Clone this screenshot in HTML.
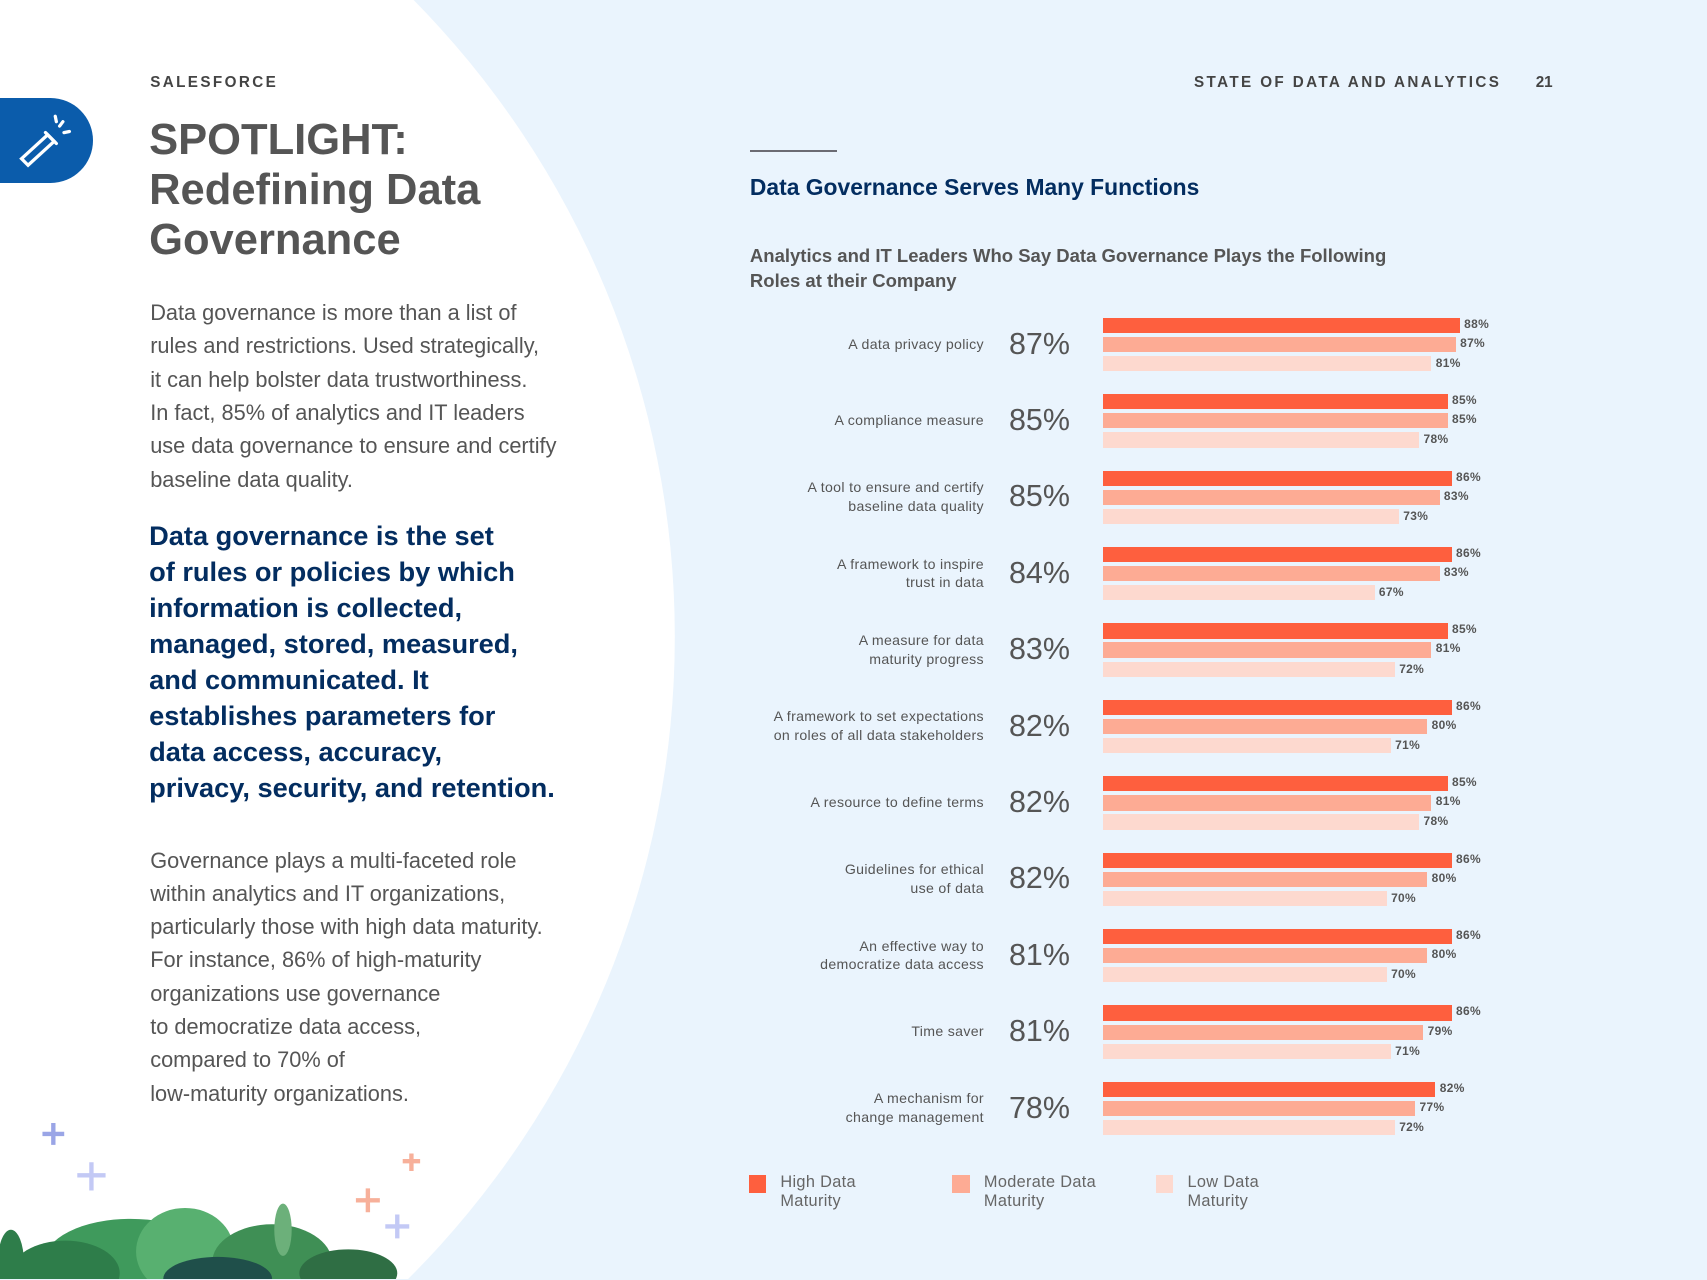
<!DOCTYPE html>
<html><head><meta charset="utf-8">
<style>
html,body{margin:0;padding:0;width:1707px;height:1280px;overflow:hidden;}
body{background:#eaf4fd;font-family:"Liberation Sans",sans-serif;position:relative;}
#wrap{position:absolute;left:0;top:0;width:1568px;height:1175px;overflow:hidden;zoom:1.0884;}
.abs{position:absolute;white-space:nowrap;}
.lbl{position:absolute;right:664px;text-align:right;font-size:13px;color:#555;line-height:17px;letter-spacing:0.3px;}
.big{position:absolute;left:927px;font-size:28px;color:#555;line-height:30px;}
.val{position:absolute;font-size:11px;font-weight:bold;color:#555;line-height:12px;letter-spacing:0.3px;}
.bar{position:absolute;height:14px;}
</style></head>
<body>
<div id="wrap">
<svg class="abs" style="left:0;top:0" width="1568" height="1175">
 <circle cx="-213" cy="585" r="833" fill="#ffffff"/>
</svg>
<div class="abs" style="left:138px;top:68px;font-size:14px;letter-spacing:2.2px;color:#444;font-weight:bold">SALESFORCE</div>
<div style="position:absolute;left:0;top:90px;width:85px;height:78px;background:#0b5cab;border-radius:0 40px 40px 0;"></div>
<svg class="abs" style="left:14px;top:104px" width="54" height="50">
 <g stroke="#fff" stroke-width="3" fill="none" stroke-linecap="round">
  <path d="M6 42 L30 20 L36 26 L12 48 Z"/><path d="M28 18 L38 28"/><path d="M41 12 L44 8 M45 18 L50 17 M38 8 L37 3"/>
 </g>
</svg>
<div class="abs" style="left:137px;top:106px;font-size:40px;line-height:46px;color:#555;font-weight:bold;white-space:normal;width:400px">SPOTLIGHT:<br>Redefining Data<br>Governance</div>
<div class="abs" style="left:138px;top:272px;font-size:20px;line-height:30.6px;color:#555;white-space:normal;width:420px">Data governance is more than a list of<br>rules and restrictions. Used strategically,<br>it can help bolster data trustworthiness.<br>In fact, 85% of analytics and IT leaders<br>use data governance to ensure and certify<br>baseline data quality.</div>
<div class="abs" style="left:137px;top:476px;font-size:25px;line-height:33px;color:#032d60;font-weight:bold;white-space:normal;width:430px">Data governance is the set<br>of rules or policies by which<br>information is collected,<br>managed, stored, measured,<br>and communicated. It<br>establishes parameters for<br>data access, accuracy,<br>privacy, security, and retention.</div>
<div class="abs" style="left:138px;top:775px;font-size:20px;line-height:30.6px;color:#555;white-space:normal;width:430px">Governance plays a multi-faceted role<br>within analytics and IT organizations,<br>particularly those with high data maturity.<br>For instance, 86% of high-maturity<br>organizations use governance<br>to democratize data access,<br>compared to 70% of<br>low-maturity organizations.</div>
<svg class="abs" style="left:0;top:1020px" width="420" height="155">
 <g stroke-width="4"><path d="M49 12v20M39 22h20" stroke="#9aa5e6"/><path d="M84 48v26M71 60h26" stroke="#c3c9f5"/><path d="M378 40v16M370 47h16" stroke="#f7b09a"/><path d="M338 72v22M327 83h22" stroke="#f7b09a"/><path d="M365 96v22M354 107h22" stroke="#c3c9f5"/></g>
 <ellipse cx="120" cy="140" rx="80" ry="40" fill="#3f9a5c"/><ellipse cx="60" cy="150" rx="50" ry="30" fill="#2e7d4a"/><ellipse cx="170" cy="130" rx="45" ry="40" fill="#58b070"/><ellipse cx="250" cy="140" rx="55" ry="35" fill="#3f8f55"/><ellipse cx="320" cy="150" rx="45" ry="22" fill="#2f6e44"/><ellipse cx="200" cy="155" rx="50" ry="20" fill="#1f4f4a"/>
 <ellipse cx="10" cy="140" rx="12" ry="30" fill="#2e7d4a"/><ellipse cx="260" cy="110" rx="8" ry="24" fill="#6cb07a"/>
</svg>
<div class="abs" style="left:1097px;top:68px;font-size:14px;letter-spacing:2.2px;color:#444;font-weight:bold">STATE OF DATA AND ANALYTICS</div>
<div class="abs" style="left:1411px;top:68px;font-size:14px;color:#444;font-weight:bold">21</div>
<div style="position:absolute;left:689px;top:138px;width:80px;height:2px;background:#6b6b73"></div>
<div class="abs" style="left:689px;top:160px;font-size:21px;color:#032d60;font-weight:bold">Data Governance Serves Many Functions</div>
<div class="abs" style="left:689px;top:223px;font-size:17px;line-height:23px;color:#555;font-weight:bold">Analytics and IT Leaders Who Say Data Governance Plays the Following<br>Roles at their Company</div>
<div id="chart"></div>
<div id="legend"></div>
</div>
<script>
const categories=["A data privacy policy","A compliance measure","A tool to ensure and certify<br>baseline data quality","A framework to inspire<br>trust in data","A measure for data<br>maturity progress","A framework to set expectations<br>on roles of all data stakeholders","A resource to define terms","Guidelines for ethical<br>use of data","An effective way to<br>democratize data access","Time saver","A mechanism for<br>change management"];
const overall=[87,85,85,84,83,82,82,82,81,81,78];
const high=[88,85,86,86,85,86,85,86,86,86,82];
const moderate=[87,85,83,83,81,80,81,80,80,79,77];
const low=[81,78,73,67,72,71,78,70,70,71,72];
const seriesNames=["High Data<br>Maturity","Moderate Data<br>Maturity","Low Data<br>Maturity"];
const colors=["#fe5f3e","#fdab94","#fdd9cf"];
const x0=1013, pxPer=3.73, top0=292, groupStep=70.2, barStep=17.5;
const xs=v=>x0+v*pxPer;
const chart=document.getElementById('chart');
const series=[high,moderate,low];
categories.forEach((c,i)=>{
  const gy=top0+i*groupStep;
  const l=document.createElement('div');l.className='lbl';l.innerHTML=c;
  
  
  const lines=c.split('<br>').length;
  l.style.top=(gy+24-lines*8.5)+'px';chart.appendChild(l);
  const b=document.createElement('div');b.className='big';b.textContent=overall[i]+'%';
  
  
  b.style.top=(gy+9)+'px';chart.appendChild(b);
  series.forEach((s,k)=>{
    const r=document.createElement('div');r.className='bar';
    
    
    r.style.left=x0+'px';r.style.top=(gy+k*barStep)+'px';r.style.width=(xs(s[i])-x0)+'px';r.style.background=colors[k];
    chart.appendChild(r);
    const v=document.createElement('div');v.className='val';v.textContent=s[i]+'%';
    
    
    v.style.left=(xs(s[i])+4)+'px';v.style.top=(gy+k*barStep+(k==2?1:0))+'px';
    chart.appendChild(v);
  });
});
const lg=document.getElementById('legend');
seriesNames.forEach((n,k)=>{
  const x=688+k*187;
  const sq=document.createElement('div');
  
  
  sq.style.cssText=`position:absolute;left:${x}px;top:1080px;width:16px;height:16px;background:${colors[k]}`;
  lg.appendChild(sq);
  const t=document.createElement('div');
  
  
  t.style.cssText=`position:absolute;left:${x+29}px;top:1078px;font-size:15px;line-height:17px;color:#666;letter-spacing:0.3px;white-space:nowrap`;
  t.innerHTML=n;lg.appendChild(t);
});
</script>
</body></html>
